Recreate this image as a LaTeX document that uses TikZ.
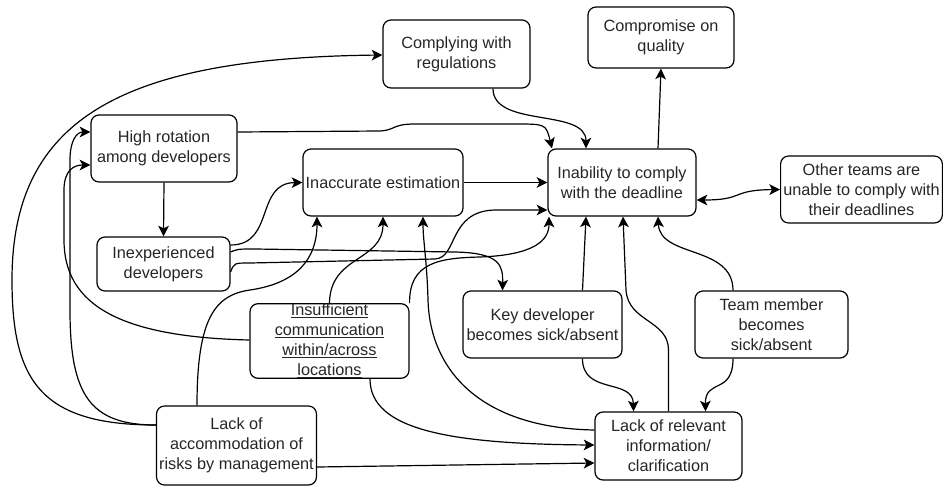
\documentclass[tikz,border=0pt]{standalone}
\usepackage{fontspec}
\setmainfont{Liberation Sans}
\usetikzlibrary{arrows.meta,calc,positioning}

\begin{document}
\begin{tikzpicture}[x=0.75pt,y=-0.75pt,
every node/.style={draw,rounded corners=6pt,line width=0.9pt,align=center,inner sep=2pt,
font=\fontsize{12.2}{15}\selectfont,text=black!85},
arr/.style={line width=0.9pt,-{Stealth[length=8pt,width=8pt,inset=2pt]}},
darr/.style={line width=0.9pt,{Stealth[length=8pt,width=8pt,inset=2pt]}-{Stealth[length=8pt,width=8pt,inset=2pt]}}]
\useasboundingbox (0,0) rectangle (943,486);
\node[minimum width=110.25pt,minimum height=51pt] (Reg) at (456.5,54) {Complying with\\regulations};
\node[minimum width=109.5pt,minimum height=45.75pt] (Qual) at (661,37.5) {Compromise on\\quality};
\node[minimum width=109.5pt,minimum height=50.25pt] (Rot) at (164,148.5) {High rotation\\among developers};
\node[minimum width=120pt,minimum height=50.25pt] (Est) at (383,182.5) {Inaccurate estimation};
\node[minimum width=111pt,minimum height=50.25pt] (Dead) at (622,182.5) {Inability to comply\\with the deadline};
\node[minimum width=120.75pt,minimum height=50.25pt] (Other) at (861.5,189.5) {Other teams are\\unable to comply with\\their deadlines};
\node[minimum width=99.75pt,minimum height=40.5pt] (Inexp) at (163.5,264) {Inexperienced\\developers};
\node[minimum width=119.25pt,minimum height=55.5pt,inner ysep=0pt] (Comm) at (329.5,341) {\underline{Insufficient}\\\underline{communication}\\\underline{within/across}\\\underline{locations}};
\node[minimum width=119.25pt,minimum height=50.25pt] (Key) at (542.5,324.5) {Key developer\\becomes sick/absent};
\node[minimum width=114.75pt,minimum height=50.25pt] (Team) at (771.5,324.5) {Team member\\becomes\\sick/absent};
\node[minimum width=119.25pt,minimum height=59.25pt] (Risk) at (236.5,445.5) {Lack of\\accommodation of\\risks by management};
\node[minimum width=110.25pt,minimum height=51pt] (Info) at (668.5,446) {Lack of relevant\\information/\\clarification};

\draw[arr] ($(Reg.south)+(36.5,0)$) .. controls (493,128) and (586,108) .. ($(Dead.north)+(-36,0)$);
\draw[arr] ($(Rot.east)+(0,-16.5)$) -- (380,131) .. controls (396,130) and (392,124) .. (415,124) -- (515,124) .. controls (546,124) .. ($(Dead.north)+(-70,0)$);
\draw[arr] ($(Dead.north)+(36,0)$) -- (Qual.south);
\draw[darr] ($(Dead.east)+(0,17.5)$) .. controls (745,200) and (730,190) .. (Other.west);
\draw[arr] (Rot.south) -- (Inexp.north);
\draw[arr] ($(Inexp.east)+(0,-19)$) .. controls (275,245) and (255,183) .. (Est.west);
\draw[arr] (Est.east) -- (Dead.west);
\draw[arr] ($(Inexp.east)+(0,-12)$) .. controls (238,249) .. (255,249) -- (455,252) .. controls (500,253) and (503,265) .. ($(Key.north)+(-40,0)$);
\draw[arr] ($(Inexp.east)+(0,8)$) .. controls (234,263) .. (250,263) -- (435,259) .. controls (458,258) and (448,211) .. (495,210) -- ($(Dead.west)+(0,27.5)$);
\draw[arr] (Comm.north) .. controls (330,255) and (383,262) .. (Est.south);
\draw[arr] (Comm.north east) .. controls (409,262) and (440,258) .. (480,257) .. controls (535,255) and (549,240) .. ($(Dead.south)+(-73,0)$);
\draw[arr] ($(Risk.north)+(-39.5,0)$) .. controls (197,318) and (215,295) .. (250,290) .. controls (298,283) and (317,258) .. ($(Est.south)+(-66,0)$);
\draw[arr] ($(Comm.west)+(0,-1)$) .. controls (120,337) and (64,305) .. (64,240) -- (64,190) .. controls (64,170) and (74,165) .. ($(Rot.west)+(0,16.5)$);
\draw[arr] ($(Risk.west)+(0,-20.5)$) .. controls (90,425) and (70,395) .. (70,310) -- (70,160) .. controls (70,140) and (77,132) .. ($(Rot.west)+(0,-16.5)$);
\draw[arr] ($(Risk.west)+(0,-20.5)$) .. controls (40,425) and (12,380) .. (12,280) .. controls (12,120) and (120,58) .. ($(Reg.west)+(0,1)$);
\draw[arr] ($(Comm.south)+(40.5,0)$) .. controls (370,430) and (450,444) .. ($(Info.west)+(0,-1)$);
\draw[arr] ($(Risk.east)+(0,21.5)$) -- ($(Info.west)+(0,17)$);
\draw[arr] ($(Info.west)+(0,-16)$) .. controls (480,428) and (430,370) .. (428,300) .. controls (427,262) and (423,240) .. ($(Est.south)+(40,0)$);
\draw[arr] ($(Key.north)+(40,0)$) -- ($(Dead.south)+(-36,0)$);
\draw[arr] (Info.north) -- (668.5,350) .. controls (668.5,320) and (628,322) .. (626,290) -- ($(Dead.south)+(1,0)$);
\draw[arr] ($(Team.north)+(-38.5,0)$) .. controls (733,245) and (660,258) .. ($(Dead.south)+(36,0)$);
\draw[arr] ($(Key.south)+(40,0)$) .. controls (582.5,395) and (633,378) .. ($(Info.north)+(-35,0)$);
\draw[arr] ($(Team.south)+(-38.5,0)$) .. controls (733,395) and (705,378) .. ($(Info.north)+(37,0)$);
\end{tikzpicture}
\end{document}
